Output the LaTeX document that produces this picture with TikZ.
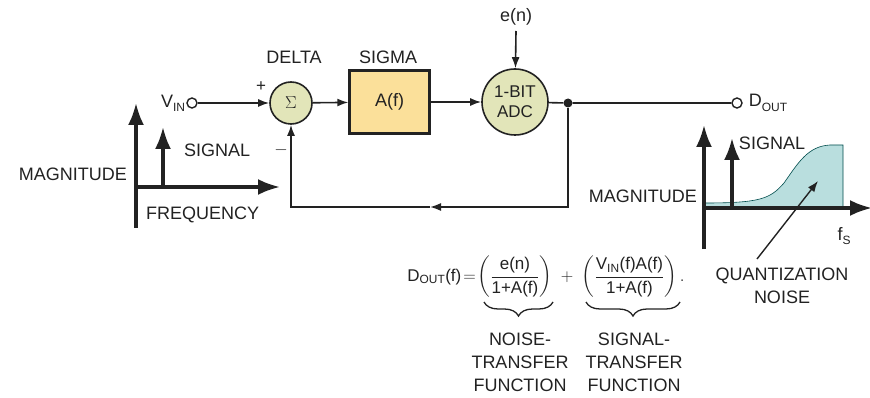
\documentclass[tikz,border=0pt]{standalone}
\usepackage{fontspec}
\usepackage{amsmath}
\setmainfont{Liberation Sans}
\usetikzlibrary{arrows.meta,decorations.pathreplacing}
\definecolor{sumfill}{HTML}{E2E5B9}
\definecolor{boxfill}{HTML}{FBE09A}
\definecolor{noisefill}{HTML}{B9DEDE}
\definecolor{ink}{HTML}{222222}
\newcommand{\lsub}[1]{\raisebox{-0.45ex}{\fontsize{12}{12}\selectfont #1}}
\begin{document}
\begin{tikzpicture}[x=1pt,y=-1pt,
  every node/.style={font=\fontsize{18}{22}\selectfont, text=ink, inner sep=0pt},
  sig/.style={draw=ink, line width=1.6pt, -{Latex[length=11pt,width=8pt]}},
  axis/.style={draw=ink, line width=3.2pt, -{Latex[length=22pt,width=16pt]}},
  port/.style={circle, draw=ink, fill=white, line width=1.4pt, minimum size=10pt},
  ball/.style={circle, draw=ink, fill=sumfill, line width=1.6pt, align=center},
  ubrace/.style={draw=ink, line width=1.3pt, decorate, decoration={brace, mirror, amplitude=14pt}}
]
\useasboundingbox (0,0) rectangle (870,398);
% loop blocks
\node[port] (vin) at (192,103) {};
\node[anchor=east] (vinlbl) at ([xshift=-1pt]vin.west) {V\lsub{IN}};
\node[ball, minimum size=42pt] (sum) at (291,103) {\fontsize{16}{16}\selectfont$\Sigma$};
\node (delta) at (294,57) {DELTA};
\node (plus) at (261,87) {\fontsize{17}{17}\selectfont +};
\node (minus) at (281,150) {\fontsize{17}{17}\selectfont $-$};
\node[draw=ink, fill=boxfill, line width=2.4pt, minimum width=80pt, minimum height=63pt] (intg) at (389.5,102) {A(f)};
\node (sigma) at (388,57) {SIGMA};
\node[ball, minimum size=66pt, font=\fontsize{17}{20}\selectfont] (adc) at (515,102) {1-BIT\\ADC};
\node (en) at (516,17) {e(n)};
\coordinate (entop) at (516,31);
\node[circle, fill=ink, minimum size=9pt] (dot) at (568,103) {};
\node[port] (dout) at (737,103) {};
\node[anchor=west] (doutlbl) at ([xshift=6pt]dout.east) {D\lsub{OUT}};
\coordinate (fb) at (430,207);
% connectors
\draw[sig] (vin) -- (sum);
\draw[sig] (sum) -- (intg);
\draw[sig] (intg) -- (adc);
\draw[sig] (entop) -- (adc);
\draw[draw=ink, line width=1.6pt] (adc) -- (dot) -- (dout);
\draw[sig] (dot) |- (fb);
\draw[sig] (fb) -| (sum);
% input spectrum
\coordinate (lo) at (136,187);
\draw[axis] (136,228) -- (136,103);
\draw[axis] (lo) -- (280,187);
\draw[axis] (163,187) -- (163,127);
\node[anchor=east] (lmag) at (127,174) {MAGNITUDE};
\node[anchor=west] (lsig) at (184,150) {SIGNAL};
\node[anchor=west] (lfreq) at (146,215) {FREQUENCY};
% output spectrum
\filldraw[fill=noisefill, draw=teal!60!black, line width=0.6pt]
  (704,208) -- (704,203) .. controls (760,203) and (770,199) .. (784,183)
  .. controls (798,163) and (808,146) .. (830,145) -- (843,145) -- (843,208) -- cycle;
\draw[axis] (704,249) -- (704,125);
\draw[axis] (704,208) -- (872,208);
\draw[axis] (732,208) -- (732,138);
\node[anchor=east] (rmag) at (697,196) {MAGNITUDE};
\node (rsig) at (772,143) {SIGNAL};
\node (fs) at (844,236) {f\lsub{S}};
\node[align=center, font=\fontsize{18}{23}\selectfont] (qn) at (782,286) {QUANTIZATION\\NOISE};
\coordinate (qtip) at (818,181);
\draw[draw=ink, line width=1.4pt, -{Latex[length=11pt,width=8pt]}] (757,259) -- (qtip);
% transfer equation
\node (eqn) at (546,277) {\fontsize{17}{20}\selectfont
  $\text{D}_{\text{OUT}}\text{(f)}\!=\!\left(\dfrac{\text{e(n)}}{\text{1+A(f)}}\right)\;+\;
  \left(\dfrac{\text{V}_{\text{IN}}\text{(f)A(f)}}{\text{1+A(f)}}\right).$};
\coordinate (nb1) at (484,302);
\coordinate (nb2) at (553,302);
\coordinate (sb1) at (586,302);
\coordinate (sb2) at (680,302);
\draw[ubrace] (nb1) -- (nb2);
\draw[ubrace] (sb1) -- (sb2);
\node[align=center, font=\fontsize{18}{23}\selectfont] (ntf) at (520,362) {NOISE-\\TRANSFER\\FUNCTION};
\node[align=center, font=\fontsize{18}{23}\selectfont] (stf) at (634,362) {SIGNAL-\\TRANSFER\\FUNCTION};
\end{tikzpicture}
\end{document}
